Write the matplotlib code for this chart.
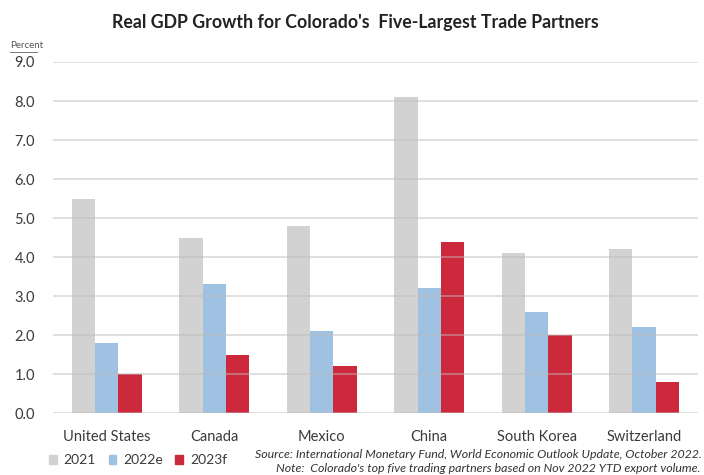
import numpy as np
import matplotlib
matplotlib.use("Agg")
import matplotlib.pyplot as plt
from matplotlib.lines import Line2D
from matplotlib.patches import Patch

plt.rcParams['font.family'] = ['Lato', 'DejaVu Sans']

# real GDP growth, percent
countries = ["United States", "Canada", "Mexico", "China", "South Korea", "Switzerland"]
gdp_2021 = [5.5, 4.5, 4.8, 8.1, 4.1, 4.2]
gdp_2022e = [1.8, 3.3, 2.1, 3.2, 2.6, 2.2]
gdp_2023f = [1.0, 1.5, 1.2, 4.4, 2.0, 0.8]
series_names = ["2021", "2022e", "2023f"]
y_ticks = [0, 1, 2, 3, 4, 5, 6, 7, 8, 9]

colors = ["#d2d2d2", "#9fc2e2", "#cc293c"]
text_col = "#3a3a3a"

fig = plt.figure(figsize=(7.04, 4.75), dpi=100)
ax = fig.add_axes([0.0753, 0.130, 0.916, 0.7395])

x = np.arange(len(countries))
w = 0.217
for i, vals in enumerate([gdp_2021, gdp_2022e, gdp_2023f]):
    ax.bar(x + (i - 1) * w, vals, width=w, color=colors[i], zorder=2, label=series_names[i])

# gridlines sit over the bars, faintly
for t in y_ticks:
    ax.axhline(t, color="#bdbdbd", lw=1.2, alpha=0.55, zorder=3)

ax.set_xlim(-0.5, len(countries) - 0.5)
ax.set_ylim(0, 9)
ax.set_yticks(y_ticks)
ax.set_yticklabels([f"{t:.1f}" for t in y_ticks], fontsize=10.5, color=text_col)
ax.set_xticks(x)
ax.set_xticklabels(countries, fontsize=10.5, color=text_col)
ax.tick_params(axis='both', length=0)
ax.tick_params(axis='y', pad=13)
ax.tick_params(axis='x', pad=12)
for s in ax.spines.values():
    s.set_visible(False)

fig.text(0.505, 0.953, "Real GDP Growth for Colorado's  Five-Largest Trade Partners",
         ha='center', va='center', fontsize=12.8, fontweight='bold', color="#222222")

fig.text(0.014, 0.905, "Percent", fontsize=7, color="#555555", va='center')
fig.add_artist(Line2D([0.014, 0.053], [0.891, 0.891], transform=fig.transFigure,
                      color="#777777", lw=0.7))

handles = [Patch(color=c) for c in colors]
fig.legend(handles, series_names, loc='lower left', bbox_to_anchor=(0.052, -0.008),
           ncol=3, frameon=False, fontsize=10, handlelength=0.55, handleheight=0.55,
           handletextpad=0.5, columnspacing=0.9, labelcolor=text_col)

fig.text(0.997, 0.044, "Source: International Monetary Fund, World Economic Outlook Update, October 2022.",
         ha='right', va='center', fontsize=8.9, style='italic', color="#333333")
fig.text(0.995, 0.014, "Note:  Colorado's top five trading partners based on Nov 2022 YTD export volume.",
         ha='right', va='center', fontsize=8.9, style='italic', color="#333333")

fig.savefig("out.png", dpi=100)
